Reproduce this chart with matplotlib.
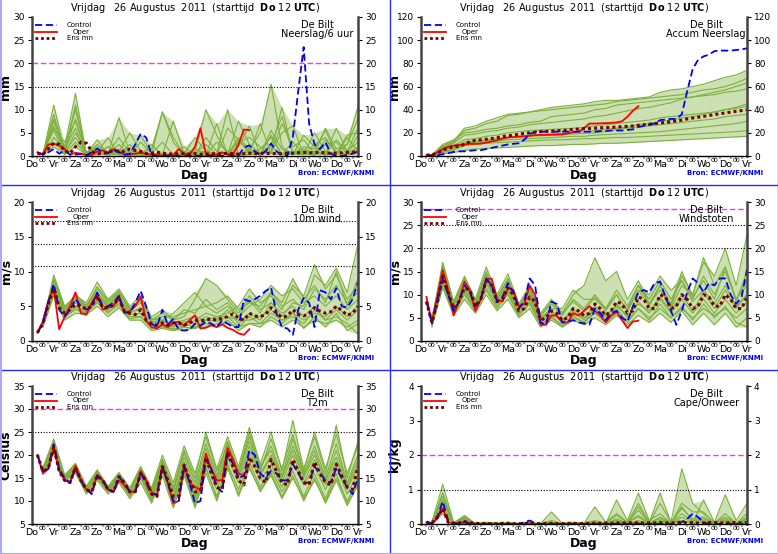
import numpy as np
import matplotlib
matplotlib.use('Agg')
import matplotlib.pyplot as plt
from matplotlib.lines import Line2D
import matplotlib.transforms as mtrans

# --- tijd-as: 6-uurs stappen voor control/oper/ensmn, 12-uurs voor de leden
day_labels = ['Do', 'Vr', 'Za', 'Zo', 'Ma', 'Di', 'Wo', 'Do', 'Vr', 'Za', 'Zo', 'Ma', 'Di', 'Wo', 'Do', 'Vr']
x6 = np.arange(1, 61) * 0.25
x12 = np.arange(1, 31) * 0.5

# ---------------- Neerslag/6 uur ----------------
rain_ctrl = [0.8, 0.3, 0.8, 1.5, 0.5, 1.2, 0.3, 0.3, 0.5, 0.2,
             0.8, 1.6, 0.8, 0.6, 1.3, 0.8, 0.3, 0.4, 2.5, 4.8,
             4.0, 0.3, 0.0, 0.0, 0.1, 0.0, 0.0, 0.0, 0.1, 0.0,
             0.0, 0.0, 0.0, 0.1, 0.0, 0.0, 0.0, 0.1, 1.8, 2.3,
             1.0, 0.3, 1.0, 2.7, 1.0, 0.2, 0.0, 4.0, 14.0, 23.5,
             7.0, 2.5, 1.5, 3.0, 0.5, 0.0, 0.0, 0.2, 0.5, 1.0]
rain_oper = [0.8, 0.3, 2.5, 2.6, 2.3, 1.5, 0.3, 0.7, 0.5, 0.2,
             0.2, 1.0, 1.2, 0.8, 1.5, 1.0, 0.3, 0.4, 0.5, 0.7,
             0.5, 0.3, 0.2, 0.1, 0.1, 0.2, 1.5, 0.5, 0.3, 2.0,
             6.0, 0.5, 0.2, 0.3, 0.8, 0.4, 0.3, 2.5, 5.7, 5.6]
rain_ensmn = [0.6, 0.3, 1.5, 2.8, 2.5, 1.2, 0.5, 2.0, 3.0, 2.8,
              1.0, 0.5, 0.5, 0.8, 1.2, 1.0, 1.0, 1.5, 1.2, 1.0,
              0.5, 0.6, 0.8, 0.6, 0.5, 0.4, 0.5, 0.5, 0.4, 0.5,
              0.4, 0.4, 0.5, 0.4, 0.5, 0.6, 0.5, 0.4, 0.5, 0.6,
              0.5, 0.6, 0.5, 0.6, 0.5, 0.5, 0.6, 0.6, 0.7, 0.8,
              0.7, 0.7, 0.8, 0.7, 0.6, 0.6, 0.7, 0.8, 0.8, 0.9]
rain_members = [
    [0.3, 11.0, 1.0, 4.0, 0.5, 1.0, 0.3, 2.5, 0.2, 0.5, 1.5, 9.5, 3.0, 0.2, 0.5, 0.3, 3.0, 1.0, 0.2, 0.5, 1.5, 4.0, 0.3, 0.5, 1.0, 0.2, 2.5, 3.0, 0.5, 2.0],
    [0.5, 7.5, 2.0, 13.5, 0.3, 0.5, 2.0, 0.5, 0.3, 0.2, 0.5, 3.0, 0.3, 0.5, 1.0, 10.0, 4.5, 0.3, 0.2, 1.5, 5.0, 15.5, 2.0, 0.3, 1.5, 0.4, 6.0, 1.5, 2.5, 10.7],
    [0.8, 5.5, 0.8, 8.0, 0.5, 3.5, 0.3, 1.0, 5.0, 1.0, 0.3, 0.2, 0.2, 1.0, 0.3, 0.2, 0.2, 6.0, 3.5, 0.5, 7.0, 0.5, 0.3, 1.0, 0.5, 5.0, 1.0, 0.2, 4.0, 1.0],
    [0.2, 4.0, 1.5, 6.0, 0.2, 0.3, 2.0, 0.3, 0.5, 0.5, 0.2, 0.3, 7.5, 0.5, 4.0, 1.0, 0.5, 10.0, 0.2, 0.3, 0.5, 1.0, 5.0, 6.5, 0.3, 1.0, 0.5, 0.3, 4.5, 5.0],
    [0.3, 9.0, 0.5, 3.0, 0.3, 0.8, 4.0, 0.2, 0.3, 3.0, 0.5, 0.5, 0.2, 0.3, 1.5, 0.5, 0.3, 0.3, 3.0, 4.0, 2.0, 0.5, 7.0, 2.0, 3.5, 0.5, 0.3, 6.0, 1.0, 3.0],
    [0.5, 6.0, 3.0, 7.5, 0.5, 2.0, 0.5, 0.3, 2.5, 0.2, 0.2, 0.3, 0.5, 2.0, 0.2, 4.0, 1.0, 0.5, 3.5, 1.0, 0.2, 4.5, 0.3, 3.0, 0.5, 0.2, 3.5, 1.0, 0.5, 4.5],
    [0.2, 3.0, 0.5, 5.0, 1.0, 0.5, 0.3, 1.5, 0.5, 4.5, 0.5, 0.2, 0.2, 0.5, 0.3, 0.2, 7.0, 0.3, 2.0, 6.5, 0.3, 1.0, 10.5, 0.5, 2.0, 1.5, 5.5, 0.5, 0.3, 0.5],
    [0.4, 8.0, 1.2, 10.0, 0.3, 1.5, 0.6, 4.0, 0.4, 0.3, 2.5, 0.3, 0.3, 0.2, 0.5, 2.5, 0.4, 0.3, 4.0, 1.5, 0.3, 5.5, 1.5, 0.3, 4.5, 2.0, 0.5, 3.5, 1.0, 6.0],
    [0.6, 2.0, 0.3, 2.0, 0.2, 0.8, 0.2, 0.5, 0.2, 0.5, 0.2, 0.3, 0.2, 0.2, 0.2, 0.5, 0.2, 1.0, 0.3, 1.0, 0.2, 2.0, 0.3, 0.5, 0.3, 1.0, 0.2, 1.0, 0.3, 1.5],
    [0.3, 6.5, 1.0, 11.0, 0.5, 2.5, 0.4, 8.3, 0.5, 1.0, 0.3, 9.5, 4.0, 0.3, 0.8, 1.0, 0.5, 0.3, 7.5, 2.5, 0.5, 2.5, 8.5, 0.5, 0.3, 2.5, 4.0, 0.5, 2.5, 8.0],
]

# ---------------- Accum Neerslag ----------------
acc_ctrl = [0.5, 0.5, 0.5, 1.5, 2.5, 3.5, 4.0, 4.0, 4.5, 5.0,
            5.0, 6.0, 7.0, 8.0, 9.0, 10.0, 10.5, 11.0, 14.0, 19.0,
            21.0, 21.0, 21.0, 21.0, 21.0, 21.0, 21.0, 21.0, 21.0, 21.0,
            21.0, 21.0, 21.5, 21.5, 22.0, 22.0, 22.0, 22.5, 23.0, 25.0,
            26.0, 27.0, 28.0, 31.0, 31.5, 32.0, 32.0, 36.0, 56.0, 75.0,
            83.0, 86.0, 87.5, 90.5, 91.0, 91.0, 91.0, 91.5, 92.0, 93.0]
acc_oper = [0.5, 0.8, 3.0, 6.0, 8.0, 9.0, 9.5, 10.0, 10.5, 10.5,
            10.7, 11.5, 12.5, 13.5, 15.0, 16.0, 16.3, 16.7, 17.0, 17.5,
            18.0, 18.2, 18.3, 18.4, 18.5, 18.6, 19.5, 20.5, 21.0, 24.0,
            28.0, 28.0, 28.2, 28.4, 28.6, 29.0, 30.0, 34.0, 39.0, 43.0]
acc_ensmn = [0.8, 1.0, 2.5, 5.0, 7.0, 8.0, 8.5, 10.0, 12.5, 13.5,
             14.0, 14.5, 15.0, 15.8, 16.8, 17.5, 18.0, 18.8, 19.5, 20.0,
             20.5, 21.0, 21.2, 21.5, 21.8, 22.0, 22.3, 23.0, 23.3, 23.6,
             23.8, 24.0, 24.3, 24.5, 24.7, 25.0, 25.3, 25.6, 25.9, 26.5,
             27.0, 27.5, 27.9, 28.5, 29.0, 29.6, 30.2, 31.0, 32.0, 32.8,
             33.5, 34.2, 35.0, 35.8, 36.5, 37.2, 37.9, 38.6, 39.2, 39.8]
acc_members = [
    [0.5, 5, 8, 12, 13, 14, 15, 16, 17, 18, 18.5, 19, 19.5, 20, 21, 22, 23, 24, 25, 27, 28, 30, 31, 33, 34, 36, 38, 40, 41, 43],
    [0.5, 8, 12, 22, 24, 28, 30, 35, 36, 38, 40, 42, 43, 44, 45, 47, 48, 48, 49, 50, 51, 55, 57, 58, 60, 62, 65, 68, 70, 74],
    [0.3, 3, 5, 9, 10, 11, 11.5, 12, 12.5, 13, 13.5, 14, 14, 14.5, 15, 15, 15.5, 16, 16, 16.5, 17, 17.5, 18, 18.5, 19, 19.5, 20, 20.5, 21, 22],
    [1.0, 10, 14, 20, 21, 23, 24, 26, 27, 29, 30, 34, 35, 36, 37, 40, 41, 44, 45, 46, 47, 48, 49, 50, 51, 52, 53, 55, 56, 58],
    [0.5, 6, 9, 14, 15, 17, 18, 20, 21, 22, 22.5, 23, 23.5, 24, 24.5, 26, 27, 28, 29, 30, 31, 33, 34, 35, 36, 37, 38, 40, 42, 45],
    [0.3, 4, 6, 10, 11, 12, 13, 14, 14.5, 15, 15.5, 16, 16.5, 17, 17, 18, 18.5, 19, 19.5, 20, 20.5, 21, 22, 23, 24, 25, 26, 27, 28, 30],
    [0.8, 7, 11, 18, 19, 21, 22, 24, 25, 27, 28, 29, 30, 31, 32, 34, 35, 37, 39, 41, 42, 44, 46, 49, 51, 53, 55, 57, 60, 63],
    [0.4, 5, 7, 11, 12, 13, 14, 16, 16.5, 17, 17.5, 18, 18.5, 19, 19.5, 20, 21, 23, 24, 25, 26, 27, 28, 29, 30, 31, 32, 34, 35, 36],
    [0.2, 2, 3, 5, 6, 6.5, 7, 7.5, 8, 8.5, 9, 9, 9.5, 10, 10, 10.5, 11, 11, 11.5, 12, 12.5, 13, 13.5, 14, 14.5, 15, 15.5, 16, 16.5, 17],
    [0.6, 9, 13, 24, 26, 30, 33, 36, 37, 38, 39, 40, 41, 42, 43, 44, 45, 47, 48, 49, 50, 51, 52, 53, 55, 57, 58, 60, 63, 67],
]

# ---------------- 10m wind ----------------
wind_ctrl = [1.2, 2.5, 5.5, 8.2, 4.5, 3.5, 4.5, 6.0, 5.0, 4.5,
             5.0, 7.0, 5.0, 5.0, 5.5, 6.5, 4.2, 4.0, 5.5, 7.2,
             5.0, 2.5, 2.0, 4.5, 2.3, 3.2, 1.6, 1.5, 1.6, 2.5,
             2.2, 2.8, 2.5, 2.0, 3.0, 2.5, 2.0, 2.0, 6.0, 5.7,
             6.0, 6.5, 7.2, 7.7, 4.0, 2.0, 1.8, 0.9, 4.5, 6.2,
             5.5, 2.0, 7.3, 7.0, 6.0, 7.6, 5.0, 4.8, 6.0, 8.5]
wind_oper = [1.2, 2.8, 5.8, 7.5, 1.7, 3.5, 5.0, 7.0, 4.0, 3.8,
             5.5, 6.8, 4.5, 4.8, 5.0, 6.3, 4.0, 4.3, 5.0, 6.4,
             3.0, 2.0, 1.8, 2.4, 2.0, 2.6, 2.8, 2.2, 3.0, 3.7,
             1.8, 1.9, 2.3, 2.0, 2.4, 1.9, 1.6, 1.1, 0.9, 1.7]
wind_ensmn = [1.2, 2.5, 5.3, 7.6, 4.8, 4.0, 4.5, 5.3, 5.0, 4.6,
              5.0, 6.5, 4.8, 4.8, 5.2, 6.2, 4.3, 4.0, 3.8, 4.5,
              3.0, 2.5, 2.3, 2.6, 2.3, 2.6, 2.6, 2.3, 2.6, 3.0,
              2.9, 3.0, 3.2, 3.0, 3.3, 3.5, 3.9, 3.3, 3.0, 4.0,
              3.6, 3.5, 3.8, 4.8, 4.0, 3.4, 3.6, 4.5, 3.8, 3.6,
              4.0, 4.8, 4.3, 4.0, 4.2, 5.0, 4.4, 3.7, 4.0, 5.0]
wind_members = [
    [2.8, 8.5, 4.5, 6.0, 5.0, 7.5, 5.5, 7.0, 4.5, 5.5, 3.0, 3.5, 3.5, 4.0, 4.5, 5.0, 5.5, 6.5, 4.5, 5.5, 5.0, 7.0, 5.0, 6.0, 4.5, 7.5, 6.0, 8.0, 5.5, 7.0],
    [2.2, 7.0, 3.5, 4.5, 4.0, 5.5, 4.0, 5.5, 3.5, 3.5, 2.0, 2.0, 1.8, 1.5, 2.0, 2.0, 2.5, 2.5, 2.0, 2.5, 2.5, 3.0, 2.0, 3.0, 2.0, 3.0, 2.5, 3.0, 2.0, 3.0],
    [2.5, 9.5, 5.0, 6.5, 5.5, 8.5, 6.0, 7.5, 5.0, 6.5, 3.5, 4.5, 3.0, 3.5, 6.0, 9.0, 8.0, 6.0, 4.0, 6.5, 4.5, 5.5, 3.5, 5.5, 5.0, 9.5, 8.0, 10.5, 7.0, 14.0],
    [2.0, 6.5, 3.0, 4.0, 3.8, 5.0, 3.5, 4.8, 3.0, 3.0, 1.5, 1.8, 1.5, 2.0, 1.8, 2.5, 2.0, 3.0, 1.5, 2.5, 2.0, 3.5, 2.5, 4.0, 1.8, 3.5, 2.0, 4.0, 1.5, 2.5],
    [2.6, 8.0, 4.2, 5.8, 4.8, 6.8, 5.0, 6.5, 4.2, 4.5, 2.8, 3.0, 4.0, 5.5, 7.0, 5.0, 4.0, 5.0, 3.5, 5.0, 6.0, 8.0, 6.5, 7.5, 5.5, 6.5, 5.0, 6.5, 4.5, 6.0],
    [2.3, 7.2, 3.8, 5.0, 4.2, 6.0, 4.5, 5.8, 3.8, 4.0, 2.2, 2.5, 2.0, 2.8, 2.5, 3.5, 3.0, 4.5, 2.5, 4.0, 3.0, 5.5, 4.0, 5.0, 3.5, 5.0, 3.0, 4.5, 3.0, 4.5],
    [2.7, 8.8, 4.8, 6.2, 5.2, 7.0, 5.2, 6.8, 4.8, 5.8, 3.2, 3.0, 2.5, 3.0, 3.5, 3.0, 3.5, 4.0, 5.0, 7.5, 5.5, 6.5, 4.5, 8.0, 6.5, 11.0, 7.5, 9.5, 6.0, 8.0],
    [2.4, 7.8, 4.0, 5.5, 4.5, 6.5, 4.8, 6.0, 4.0, 4.8, 2.6, 2.8, 2.2, 2.0, 3.0, 4.0, 3.5, 3.5, 3.0, 3.0, 3.5, 4.5, 3.0, 4.0, 3.0, 4.0, 3.5, 5.0, 3.5, 5.0],
    [2.1, 6.8, 3.3, 4.8, 4.0, 5.8, 4.2, 5.2, 3.2, 3.5, 1.8, 2.2, 1.5, 2.5, 2.0, 3.0, 2.8, 3.5, 2.0, 3.5, 2.5, 4.0, 3.0, 3.5, 2.5, 4.5, 3.0, 3.5, 2.5, 1.0],
    [2.9, 9.0, 4.5, 6.8, 5.0, 7.8, 5.8, 7.2, 4.5, 6.0, 3.0, 4.0, 3.0, 4.5, 4.0, 6.0, 4.5, 5.5, 3.5, 6.0, 4.0, 7.0, 5.5, 9.0, 6.0, 8.0, 5.5, 10.0, 5.0, 9.0],
]

# ---------------- Windstoten ----------------
gust_ctrl = [8.5, 3.8, 8.5, 13.5, 10.0, 6.5, 8.5, 12.0, 10.5, 7.5,
             9.0, 13.5, 12.0, 8.5, 9.5, 12.5, 10.5, 7.0, 8.5, 13.5,
             12.0, 4.0, 3.5, 8.5, 8.0, 4.0, 4.2, 4.5, 4.0, 3.8,
             3.5, 7.0, 6.0, 4.5, 6.0, 6.5, 5.0, 4.2, 7.5, 10.5,
             11.0, 10.5, 12.5, 12.8, 9.5, 6.5, 3.5, 6.5, 10.5, 13.5,
             12.5, 10.5, 12.5, 12.0, 13.5, 13.5, 10.0, 8.0, 9.5, 15.5]
gust_oper = [9.5, 4.0, 9.5, 15.3, 11.0, 5.5, 8.5, 12.8, 11.0, 6.5,
             9.0, 13.3, 13.5, 9.0, 8.5, 11.5, 11.0, 7.5, 8.0, 12.0,
             10.0, 3.5, 3.5, 5.5, 5.5, 4.0, 4.0, 6.0, 5.5, 6.5,
             7.5, 6.5, 5.5, 4.0, 5.5, 6.3, 4.5, 2.8, 4.2, 4.4]
gust_ensmn = [8.5, 4.0, 8.5, 14.0, 10.5, 7.0, 8.5, 11.5, 11.0, 7.5,
              9.0, 13.0, 12.0, 8.5, 9.0, 11.5, 10.0, 6.5, 7.0, 9.5,
              8.5, 4.5, 5.0, 6.5, 6.0, 4.5, 5.0, 7.0, 6.5, 5.5,
              6.0, 8.0, 7.0, 5.5, 6.5, 8.5, 8.0, 6.0, 6.5, 9.5,
              9.0, 7.0, 7.0, 10.0, 9.5, 7.0, 7.5, 10.0, 9.0, 7.0,
              7.5, 10.0, 9.5, 7.5, 7.5, 10.0, 9.0, 7.0, 7.0, 9.5]
gust_members = [
    [4.5, 15.5, 8, 13, 8.5, 14.5, 9.5, 13, 7.5, 11, 5.5, 8, 5.5, 9, 7, 10, 7, 11, 7.5, 12, 9, 13, 9, 13, 9, 14, 10, 15, 9, 12],
    [3.5, 12.5, 6, 10, 6.5, 11.5, 7.5, 10, 5.5, 8, 3.5, 5, 3.5, 5, 4, 6, 4, 6, 4.5, 7, 5, 7, 5, 7, 5, 7, 5.5, 7, 5, 7],
    [4, 17, 8.5, 14, 9, 16, 10, 14.5, 8, 12, 6, 9, 6, 10, 12, 18, 13, 15, 9, 13, 8, 12, 7, 12, 10, 17, 14, 20, 12, 23],
    [3, 11.5, 5.5, 9, 6, 10, 6.5, 9, 5, 7, 3, 4.5, 3, 4.5, 3.5, 5, 3.5, 5.5, 3.5, 5.5, 4, 6, 4, 6.5, 3.5, 6, 3.5, 6, 3, 5],
    [4.2, 14.5, 7.5, 12, 8, 13.5, 9, 12, 7, 10, 5, 7, 7, 11, 9, 9, 7, 10, 6.5, 11, 10, 14, 11, 13, 8.5, 11, 8, 12, 7.5, 10],
    [3.8, 13, 6.5, 11, 7, 12.5, 8, 11, 6, 9, 4, 6, 4, 6.5, 4.5, 7, 5, 8, 5, 8.5, 6, 9, 6, 9, 6, 9, 6, 9, 6, 8.5],
    [4.6, 16, 8, 12.5, 8.5, 14, 9, 12.5, 7.5, 10.5, 5, 6.5, 4.5, 7, 5, 6.5, 5.5, 7.5, 7, 12, 8, 11, 7.5, 14, 10, 18, 12, 16, 9, 13],
    [4.1, 14, 7, 11.5, 7.5, 13, 8.5, 11.5, 6.5, 9.5, 4.5, 6.5, 4.5, 6, 5, 7.5, 5.5, 7.5, 5.5, 8, 6.5, 9.5, 6.5, 10, 6.5, 10.5, 7, 11, 7, 10],
    [3.4, 12, 6, 10.5, 6.5, 11, 7, 10.5, 5.5, 8.5, 3.5, 5.5, 3, 5.5, 4, 6.5, 4.5, 7, 4, 7, 4.5, 8, 5, 7.5, 4.5, 8, 5, 7.5, 4, 3],
    [4.8, 16.5, 8.5, 13.5, 8.5, 15, 9.5, 13.5, 7.5, 11.5, 5.5, 8.5, 6, 8.5, 6.5, 9.5, 6.5, 10, 6.5, 11, 7.5, 12, 8, 15, 9.5, 13, 9, 16, 8.5, 15],
]

# ---------------- T2m ----------------
t2m_ctrl = [20.0, 16.5, 17.0, 22.3, 17.0, 15.0, 14.0, 17.0, 14.5, 12.5,
            11.5, 15.5, 14.5, 12.5, 12.0, 15.2, 14.0, 12.0, 12.0, 16.0,
            14.0, 11.5, 11.5, 17.5, 14.0, 10.0, 10.0, 17.5, 14.0, 9.5,
            10.0, 19.0, 17.0, 13.0, 12.0, 20.5, 18.0, 15.0, 15.5, 21.0,
            20.0, 16.0, 15.0, 16.5, 16.0, 14.5, 14.5, 18.0, 16.0, 14.0,
            14.0, 17.5, 16.0, 14.5, 14.0, 17.0, 15.0, 13.0, 11.5, 15.0]
t2m_oper = [20.0, 16.0, 17.0, 21.5, 16.5, 14.5, 14.0, 17.7, 14.5, 12.5,
            12.0, 15.7, 14.5, 12.5, 12.0, 14.5, 13.5, 12.0, 12.0, 16.5,
            14.5, 12.0, 11.0, 17.5, 14.0, 9.5, 10.0, 17.8, 14.0, 13.0,
            12.5, 20.3, 17.0, 14.5, 14.5, 21.5, 19.0, 16.0, 15.5, 18.0]
t2m_ensmn = [20.0, 16.5, 17.0, 21.8, 16.5, 14.5, 14.0, 17.3, 14.5, 12.5,
             12.0, 15.5, 14.5, 12.5, 12.0, 15.3, 14.0, 12.0, 12.0, 16.0,
             14.5, 11.5, 11.0, 17.5, 14.5, 11.0, 11.0, 17.8, 14.5, 12.0,
             12.0, 19.5, 16.0, 13.0, 12.5, 20.5, 17.5, 14.5, 13.5, 19.5,
             17.5, 15.0, 14.0, 19.0, 16.5, 14.0, 13.5, 19.0, 16.5, 14.0,
             13.5, 18.5, 16.0, 14.0, 13.5, 18.0, 15.5, 13.0, 12.5, 17.5]
t2m_members = [
    [16.5, 22.0, 15.0, 17.5, 12.5, 16.0, 12.5, 15.5, 12.0, 16.5, 11.5, 18.0, 11.0, 18.5, 12.0, 20.0, 14.0, 21.5, 15.5, 22.0, 16.0, 20.0, 15.0, 21.0, 15.0, 20.0, 14.5, 19.5, 13.0, 18.0],
    [16.0, 21.0, 14.5, 16.5, 12.0, 15.0, 12.0, 14.5, 11.0, 15.0, 10.0, 16.5, 9.5, 16.0, 9.0, 17.0, 11.0, 18.0, 12.5, 18.5, 13.0, 17.0, 12.0, 16.5, 11.0, 16.0, 10.5, 16.0, 9.5, 15.0],
    [17.0, 23.0, 15.5, 18.0, 13.0, 16.5, 13.0, 16.0, 12.5, 17.0, 12.5, 19.0, 13.0, 21.0, 15.0, 25.0, 17.0, 24.0, 17.5, 26.0, 18.0, 25.0, 16.5, 27.5, 17.0, 24.0, 16.0, 26.5, 15.0, 23.0],
    [16.2, 21.5, 14.8, 17.0, 12.2, 15.5, 12.2, 15.0, 11.5, 15.5, 11.0, 17.0, 10.0, 17.0, 10.5, 18.5, 12.5, 19.5, 14.0, 20.0, 14.5, 18.0, 13.0, 18.5, 13.5, 17.5, 12.5, 17.5, 11.5, 16.0],
    [16.8, 22.5, 15.2, 17.8, 12.8, 16.2, 12.8, 15.8, 12.2, 16.8, 12.0, 18.5, 12.0, 19.5, 13.0, 21.5, 15.0, 22.5, 16.0, 24.0, 17.0, 22.0, 15.5, 23.5, 16.0, 22.0, 15.0, 22.5, 14.0, 20.0],
    [15.8, 20.5, 14.2, 16.0, 11.5, 14.5, 11.5, 14.0, 10.5, 14.0, 9.5, 15.5, 8.5, 15.5, 8.5, 16.0, 10.0, 17.0, 11.5, 17.5, 12.0, 16.0, 11.0, 15.5, 10.0, 15.0, 9.5, 14.5, 9.0, 13.5],
    [16.4, 22.2, 15.0, 17.2, 12.6, 15.8, 12.4, 15.2, 12.0, 16.2, 11.2, 17.5, 10.5, 17.8, 11.0, 19.5, 13.5, 20.5, 15.0, 21.0, 15.5, 19.5, 14.0, 20.0, 14.0, 19.0, 13.5, 18.5, 12.5, 17.5],
    [17.2, 23.5, 15.6, 18.2, 13.2, 16.8, 13.2, 16.2, 12.8, 17.5, 12.8, 20.0, 14.0, 22.0, 16.0, 24.0, 16.5, 22.0, 16.5, 23.0, 16.5, 23.5, 17.0, 24.5, 16.5, 25.0, 17.0, 24.5, 16.0, 22.0],
    [16.1, 21.2, 14.6, 16.8, 12.1, 15.2, 12.1, 14.8, 11.2, 15.2, 10.5, 16.8, 9.0, 16.5, 9.5, 17.5, 10.5, 17.5, 11.0, 17.0, 12.5, 15.5, 10.5, 15.0, 10.5, 14.5, 10.0, 15.0, 10.0, 14.0],
    [16.6, 22.8, 15.4, 17.5, 12.7, 16.4, 12.7, 15.6, 12.4, 17.2, 12.2, 19.0, 12.5, 20.5, 14.0, 22.5, 15.5, 23.0, 16.5, 25.0, 17.5, 21.0, 15.0, 22.0, 15.5, 21.0, 14.0, 21.0, 13.5, 19.0],
]

# ---------------- Cape/Onweer ----------------
cape_ctrl = [0.05, 0.02, 0.2, 0.65, 0.1, 0.02, 0.02, 0.05, 0.02, 0.0,
             0.0, 0.0, 0.0, 0.0, 0.0, 0.0, 0.0, 0.0, 0.05, 0.1,
             0.03, 0.0, 0.0, 0.0, 0.0, 0.0, 0.0, 0.0, 0.0, 0.0,
             0.0, 0.0, 0.0, 0.0, 0.0, 0.0, 0.0, 0.0, 0.0, 0.0,
             0.0, 0.0, 0.0, 0.0, 0.0, 0.0, 0.0, 0.05, 0.15, 0.3,
             0.2, 0.05, 0.0, 0.0, 0.0, 0.0, 0.0, 0.0, 0.0, 0.0]
cape_oper = [0.05, 0.02, 0.15, 0.45, 0.05, 0.02, 0.02, 0.05, 0.02, 0.01,
             0.0, 0.0, 0.0, 0.0, 0.0, 0.0, 0.0, 0.0, 0.01, 0.02,
             0.0, 0.0, 0.0, 0.0, 0.0, 0.0, 0.0, 0.0, 0.0, 0.0,
             0.0, 0.0, 0.0, 0.0, 0.0, 0.0, 0.0, 0.0, 0.01, 0.02]
cape_ensmn = [0.05, 0.02, 0.2, 0.45, 0.05, 0.02, 0.03, 0.07, 0.03, 0.02,
              0.01, 0.02, 0.01, 0.01, 0.02, 0.02, 0.01, 0.01, 0.02, 0.02,
              0.01, 0.01, 0.02, 0.02, 0.01, 0.01, 0.02, 0.02, 0.01, 0.02,
              0.02, 0.02, 0.02, 0.03, 0.02, 0.03, 0.03, 0.04, 0.03, 0.04,
              0.03, 0.03, 0.03, 0.04, 0.03, 0.03, 0.04, 0.05, 0.04, 0.04,
              0.03, 0.03, 0.04, 0.04, 0.03, 0.03, 0.04, 0.04, 0.03, 0.04]
cape_members = [
    [0.05, 1.15, 0.05, 0.2, 0.02, 0.05, 0.02, 0.03, 0.01, 0.02, 0.01, 0.35, 0.02, 0.05, 0.02, 0.5, 0.05, 0.3, 0.05, 0.6, 0.05, 0.9, 0.05, 1.6, 0.6, 0.3, 0.05, 0.85, 0.1, 0.6],
    [0.02, 0.8, 0.02, 0.25, 0.01, 0.05, 0.01, 0.02, 0.01, 0.01, 0.01, 0.02, 0.01, 0.02, 0.01, 0.05, 0.01, 0.7, 0.1, 0.9, 0.1, 0.3, 0.02, 0.5, 0.1, 0.15, 0.02, 0.3, 0.02, 0.2],
    [0.08, 0.5, 0.03, 0.1, 0.02, 0.03, 0.02, 0.05, 0.01, 0.05, 0.01, 0.1, 0.01, 0.05, 0.02, 0.1, 0.02, 0.1, 0.02, 0.5, 0.05, 0.15, 0.02, 0.6, 0.35, 0.35, 0.02, 0.1, 0.02, 0.3],
    [0.03, 0.3, 0.02, 0.15, 0.01, 0.02, 0.01, 0.02, 0.01, 0.02, 0.01, 0.05, 0.01, 0.03, 0.01, 0.02, 0.01, 0.05, 0.01, 0.1, 0.01, 0.05, 0.01, 0.2, 0.05, 0.05, 0.01, 0.05, 0.01, 0.05],
    [0.1, 0.65, 0.04, 0.2, 0.02, 0.04, 0.02, 0.03, 0.02, 0.02, 0.01, 0.02, 0.01, 0.02, 0.02, 0.05, 0.02, 0.25, 0.05, 0.2, 0.02, 0.6, 0.05, 0.1, 0.02, 0.7, 0.05, 0.2, 0.05, 0.1],
    [0.04, 0.9, 0.03, 0.12, 0.01, 0.03, 0.01, 0.02, 0.01, 0.01, 0.01, 0.03, 0.01, 0.02, 0.01, 0.03, 0.02, 0.08, 0.02, 0.4, 0.02, 0.1, 0.02, 0.3, 0.08, 0.1, 0.02, 0.15, 0.02, 0.08],
    [0.06, 0.4, 0.02, 0.08, 0.01, 0.02, 0.01, 0.01, 0.01, 0.01, 0.01, 0.01, 0.01, 0.01, 0.01, 0.02, 0.01, 0.03, 0.01, 0.05, 0.01, 0.05, 0.01, 0.08, 0.02, 0.05, 0.01, 0.05, 0.01, 0.04],
    [0.03, 0.7, 0.02, 0.18, 0.01, 0.03, 0.01, 0.02, 0.01, 0.02, 0.01, 0.02, 0.01, 0.04, 0.01, 0.08, 0.01, 0.15, 0.03, 0.25, 0.02, 0.2, 0.03, 0.45, 0.15, 0.2, 0.03, 0.1, 0.02, 0.15],
]

GREEN = '#7db03c'
FRAME_BLUE = '#2828ff'
fig = plt.figure(figsize=(7.78, 5.54), dpi=100)
W, H = 778.0, 554.0

title = r'Vrijdag   26 Augustus  2011  (starttijd  $\mathbf{Do}$ 12 $\mathbf{UTC}$)'


def make_axes(col, row):
    # pixel positions
    left = 32 + col * 389
    top = [17, 202, 386][row]
    bottom = [156, 341, 524][row]
    return fig.add_axes([left / W, 1 - bottom / H, 326 / W, (bottom - top) / H])


def panel(ax, members, ctrl, oper, ensmn, ylim, ystep, ylab, name, magenta=None, dotted=()):
    m = np.array(members)
    ax.fill_between(x12, m.min(axis=0), m.max(axis=0), color=GREEN, alpha=0.38, lw=0)
    for row in m:
        ax.plot(x12, row, color=GREEN, lw=0.8)
    if magenta is not None:
        ax.axhline(magenta, color='#ff30ff', lw=1.0, dashes=(4, 2))
    for v in dotted:
        ax.axhline(v, color='black', lw=0.8, dashes=(1, 1.5))
    ax.plot(x6[:len(oper)], oper, color='red', lw=1.3)
    ax.plot(x6, ctrl, color='blue', lw=1.3, dashes=(4, 2))
    ax.plot(x6, ensmn, color='#7a0000', lw=2.2, dashes=(1, 1))

    ax.set_xlim(0, 15)
    ax.set_ylim(*ylim)
    ax.set_yticks(np.arange(ylim[0], ylim[1] + 0.01, ystep))
    ax.tick_params(axis='y', labelsize=6.5, length=3, right=True, labelright=True, pad=2)
    ax.set_xticks(range(16))
    ax.set_xticklabels(day_labels, fontsize=6.8)
    ax.tick_params(axis='x', length=0, pad=3)
    ax.set_xticks(np.arange(0, 15.01, 0.25), minor=True)
    ax.tick_params(axis='x', which='minor', length=2.5, width=1.5, color='#aaaaaa')
    trans = mtrans.blended_transform_factory(ax.transData, ax.transAxes)
    for h in np.arange(0.5, 15, 1.0):
        ax.text(h, -0.012, '00', transform=trans, fontsize=4.5, ha='center', va='top')

    ax.spines['top'].set_visible(False)
    for s in ('left', 'right'):
        ax.spines[s].set_linewidth(1.8)
        ax.spines[s].set_color('#444444')
    ax.spines['bottom'].set_linewidth(1.0)

    ax.set_ylabel(ylab, fontsize=9, fontweight='bold')
    ax.yaxis.set_label_coords(-0.06, 0.5)
    ax.set_xlabel('Dag', fontsize=9, fontweight='bold', labelpad=0)
    ax.text(1.05, -0.125, 'Bron: ECMWF/KNMI', transform=ax.transAxes, fontsize=5,
            color='blue', fontweight='bold', ha='right', va='center')

    ax.text(0.875, 0.945, 'De Bilt', transform=ax.transAxes, fontsize=7, ha='center', va='center')
    ax.text(0.875, 0.875, name, transform=ax.transAxes, fontsize=7, ha='center', va='center')

    # legend, drawn as in the original plot
    ax.plot([0.01, 0.077], [0.942, 0.942], transform=ax.transAxes, color='blue', lw=1.3, dashes=(4, 2))
    ax.plot([0.01, 0.077], [0.892, 0.892], transform=ax.transAxes, color='red', lw=1.3)
    ax.plot([0.01, 0.077], [0.847, 0.847], transform=ax.transAxes, color='#7a0000', lw=2.0, dashes=(1, 1))
    ax.text(0.107, 0.942, 'Control', transform=ax.transAxes, fontsize=5, va='center')
    ax.text(0.125, 0.895, 'Oper', transform=ax.transAxes, fontsize=5, va='center')
    ax.text(0.107, 0.85, 'Ens mn', transform=ax.transAxes, fontsize=5, va='center')


specs = [
    (0, 0, rain_members, rain_ctrl, rain_oper, rain_ensmn, (0, 30), 5, 'mm', 'Neerslag/6 uur', 20, (15,)),
    (1, 0, acc_members, acc_ctrl, acc_oper, acc_ensmn, (0, 120), 20, 'mm', 'Accum Neerslag', None, ()),
    (0, 1, wind_members, wind_ctrl, wind_oper, wind_ensmn, (0, 20), 5, 'm/s', '10m wind', None, (10.8, 13.9, 17.2)),
    (1, 1, gust_members, gust_ctrl, gust_oper, gust_ensmn, (0, 30), 5, 'm/s', 'Windstoten', 28.5, (25, 20)),
    (0, 2, t2m_members, t2m_ctrl, t2m_oper, t2m_ensmn, (5, 35), 5, 'Celsius', 'T2m', 30, (25,)),
    (1, 2, cape_members, cape_ctrl, cape_oper, cape_ensmn, (0, 4), 1, 'kJ/kg', 'Cape/Onweer', 2, (1,)),
]

for col, row, mem, c, o, e, yl, ys, ylab, name, mag, dots in specs:
    ax = make_axes(col, row)
    panel(ax, mem, c, o, e, yl, ys, ylab, name, mag, dots)
    ty = [8, 193, 377][row]
    fig.text((195 + col * 389) / W, 1 - ty / H, title, fontsize=7, ha='center', va='center')

# blue frame lines between the panels
fig.add_artist(Line2D([389.5 / W, 389.5 / W], [0, 1], color=FRAME_BLUE, lw=1))
for yy in (185, 370):
    fig.add_artist(Line2D([0, 1], [1 - yy / H, 1 - yy / H], color=FRAME_BLUE, lw=1))
fig.add_artist(Line2D([1 - 0.5 / W, 1 - 0.5 / W], [0, 1], color=FRAME_BLUE, lw=1))
fig.add_artist(Line2D([0.5 / W, 0.5 / W], [0, 1], color='#a8a8ff', lw=1.5))
fig.add_artist(Line2D([0, 1], [0.5 / H, 0.5 / H], color='#a8a8ff', lw=1.5))

fig.savefig('out.png', dpi=100)
